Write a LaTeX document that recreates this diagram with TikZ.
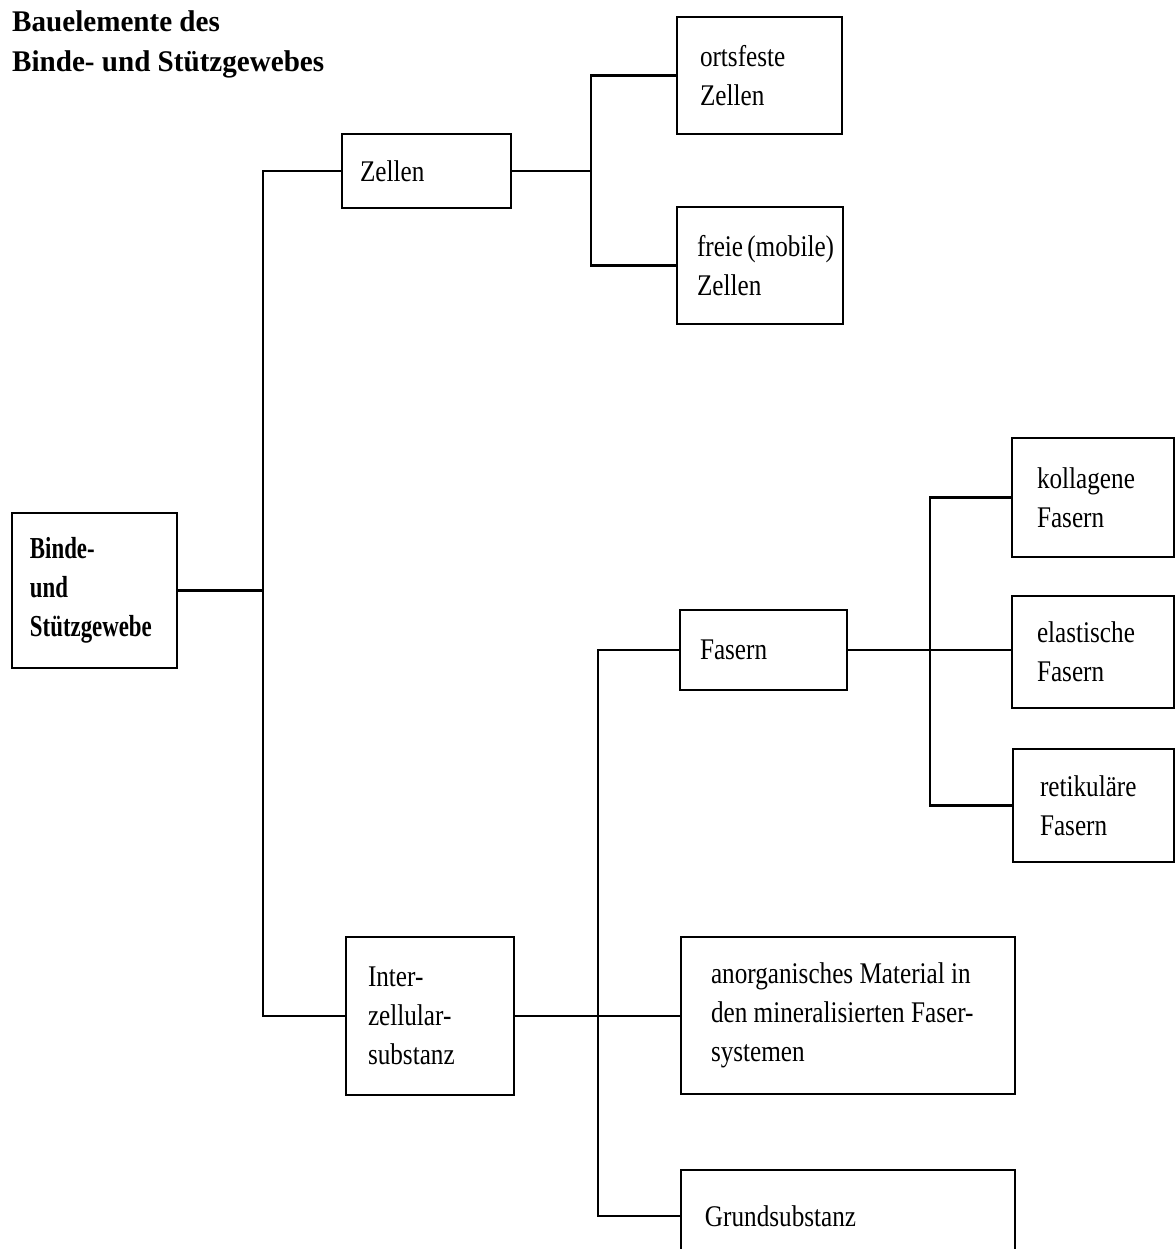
\documentclass[tikz,border=0pt]{standalone}
\usepackage{fontspec}
\setmainfont{Liberation Serif}
\newfontfamily\boxfont{Liberation Serif}[FakeStretch=0.84]
\newfontfamily\rootfont{Liberation Serif}[FakeStretch=0.75]
\newfontfamily\titlefont{Liberation Serif}[FakeStretch=0.97]
\hyphenpenalty=10000
\exhyphenpenalty=10000

\begin{document}
\begin{tikzpicture}[x=0.03cm, y=-0.03cm,
    box/.style={draw, line width=2.1pt, align=flush left,
      font=\boxfont\fontsize{25.6pt}{33.3pt}\selectfont},
    link/.style={line width=1.9pt}]

    \useasboundingbox (0,0) rectangle (1176,1249);

    % heading
    \node[anchor=north west, inner sep=0pt, align=flush left,
      font=\titlefont\bfseries\fontsize{25.6pt}{34.2pt}\selectfont]
      (titel) at (12,10) {Bauelemente des\\Binde- und Stützgewebes};

    % root
    \node[box, font=\rootfont\bfseries\fontsize{26pt}{33.3pt}\selectfont,
      text width=3.87cm, inner xsep=0.54cm, minimum height=4.65cm]
      (gewebe) at (94.5,590.5) {Binde-\\und\\Stützgewebe};

    % cells
    \node[box, text width=3.99cm, inner xsep=0.54cm, minimum height=2.22cm]
      (zellen) at (426.5,171) {Zellen};
    \node[box, text width=3.57cm, inner xsep=0.69cm, minimum height=3.51cm]
      (ortsfest) at (759.5,75.5) {ortsfeste\\Zellen};
    \node[box, text width=3.78cm, inner xsep=0.6cm, minimum height=3.51cm]
      (frei) at (760,265.5) {freie~(mobile)\\Zellen};

    % intercellular substance
    \node[box, text width=3.72cm, inner xsep=0.66cm, minimum height=4.74cm]
      (inter) at (430,1016) {Inter-\\zellular-\\substanz};
    \node[box, text width=3.81cm, inner xsep=0.6cm, minimum height=2.4cm]
      (fasern) at (763.5,650) {Fasern};
    \node[box, text width=8.22cm, inner xsep=0.9cm, minimum height=4.71cm]
      (anorg) at (848,1015.5) {anorganisches Material in\\den mineralisierten Faser-\\systemen};
    \node[box, text width=8.58cm, inner xsep=0.72cm, minimum height=2.76cm]
      (grund) at (848,1216) {Grundsubstanz};

    % fibres
    \node[box, text width=3.36cm, inner xsep=0.75cm, minimum height=3.57cm]
      (kollagen) at (1093,497.5) {kollagene\\Fasern};
    \node[box, text width=3.36cm, inner xsep=0.75cm, minimum height=3.36cm]
      (elastisch) at (1093,652) {elastische\\Fasern};
    \node[box, text width=3.21cm, inner xsep=0.81cm, minimum height=3.39cm]
      (retikulaer) at (1093.5,805.5) {retikuläre\\Fasern};

    % branch points
    \coordinate (s1) at (263,590.5);
    \coordinate (s2) at (591,171);
    \coordinate (s3) at (598,1016);
    \coordinate (s4) at (930,650);

    % connectors
    \draw[link] (gewebe.east) -- (s1);
    \draw[link] (zellen.west) -| (s1) |- (inter.west);

    \draw[link] (zellen.east) -- (s2);
    \draw[link] (ortsfest.west) -| (s2) |- (frei.west);

    \draw[link] (inter.east) -- (inter.east -| anorg.west);
    \draw[link] (fasern.west) -| (s3) |- (grund.west);

    \draw[link] (fasern.east) -- (fasern.east -| elastisch.west);
    \draw[link] (kollagen.west) -| (s4) |- (retikulaer.west);

\end{tikzpicture}
\end{document}
